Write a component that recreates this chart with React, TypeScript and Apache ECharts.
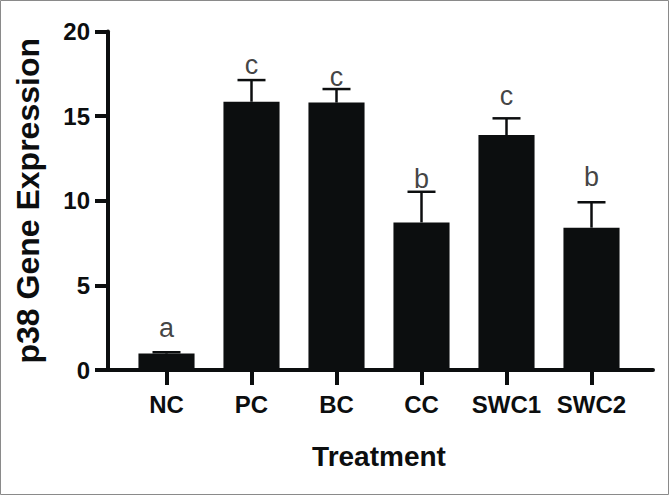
import React, { useEffect, useRef } from "react";
import * as echarts from "echarts";

const categories = ["NC", "PC", "BC", "CC", "SWC1", "SWC2"];
const means = [0.97, 15.85, 15.8, 8.72, 13.88, 8.41];
const upper = [1.05, 17.13, 16.6, 10.53, 14.87, 9.91];
const letters = ["a", "c", "c", "b", "c", "b"];
const letterPos = [2.5, 18.0, 17.3, 11.3, 16.2, 11.4];
const yTicks = [0, 5, 10, 15, 20];

const FONT = "'Liberation Sans', Arial, Helvetica, sans-serif";
const INK = "#0c0e0f";

export default function App() {
  const ref = useRef<HTMLDivElement>(null);
  useEffect(() => {
    document.body.style.margin = "0";
    if (!ref.current) return;
    const chart = echarts.init(ref.current, null, { renderer: "svg" });
    const option: any = {
      animation: false,
      backgroundColor: "#ffffff",
      grid: [
        { left: 124, right: 35, top: 31.5, bottom: 125 },
        { left: 108, right: 16, top: 31.5, bottom: 125 },
      ],
      graphic: [
        {
          type: "rect",
          shape: { x: 0.5, y: 0.5, width: 668, height: 494 },
          style: { fill: "none", stroke: "#8a8a8a", lineWidth: 1 },
          silent: true,
        },
      ],
      xAxis: [
        {
          type: "category",
          gridIndex: 0,
          data: categories,
          axisLine: { show: false },
          axisTick: { show: true, alignWithLabel: true, interval: 0, length: 15, lineStyle: { width: 4, color: INK } },
          axisLabel: { interval: 0, fontFamily: FONT, fontWeight: "bold", fontSize: 24, color: INK, margin: 22 },
          name: "Treatment",
          nameLocation: "middle",
          nameGap: 72,
          nameTextStyle: { fontFamily: FONT, fontWeight: "bold", fontSize: 28, color: INK },
        },
        {
          type: "value",
          gridIndex: 1,
          min: 0,
          max: 1,
          axisLine: { show: true, lineStyle: { width: 4, color: INK } },
          axisTick: { show: false },
          axisLabel: { show: false },
          splitLine: { show: false },
        },
      ],
      yAxis: [
        {
          type: "value",
          gridIndex: 0,
          min: yTicks[0],
          max: yTicks[yTicks.length - 1],
          interval: 5,
          offset: 16,
          axisLine: { show: true, lineStyle: { width: 4, color: INK } },
          axisTick: { show: true, length: 13, lineStyle: { width: 4, color: INK } },
          axisLabel: { fontFamily: FONT, fontWeight: "bold", fontSize: 24, color: INK, margin: 18 },
          splitLine: { show: false },
          name: "p38 Gene Expression",
          nameLocation: "middle",
          nameGap: 64,
          nameTextStyle: { fontFamily: FONT, fontWeight: "bold", fontSize: 32, color: INK },
        },
        { type: "value", gridIndex: 1, show: false, min: 0, max: 1 },
      ],
      series: [
        {
          type: "bar",
          xAxisIndex: 0,
          yAxisIndex: 0,
          data: means,
          barWidth: "66%",
          itemStyle: { color: INK },
          z: 2,
        },
        {
          type: "custom",
          xAxisIndex: 0,
          yAxisIndex: 0,
          z: 3,
          data: means.map((m, i) => [i, m, upper[i]]),
          renderItem: (params: any, api: any) => {
            const i = api.value(0);
            const base = api.coord([i, api.value(1)]);
            const top = api.coord([i, api.value(2)]);
            const half = 14;
            const style = { stroke: INK, lineWidth: 2.5 };
            return {
              type: "group",
              children: [
                { type: "line", shape: { x1: base[0], y1: base[1], x2: top[0], y2: top[1] }, style },
                { type: "line", shape: { x1: top[0] - half, y1: top[1], x2: top[0] + half, y2: top[1] }, style },
              ],
            };
          },
        },
        {
          type: "scatter",
          xAxisIndex: 0,
          yAxisIndex: 0,
          symbolSize: 0,
          data: letterPos.map((p, i) => [i, p]),
          label: {
            show: true,
            position: "inside",
            formatter: (p: any) => letters[p.dataIndex],
            fontFamily: FONT,
            fontSize: 27,
            color: "#111111",
            textBorderWidth: 0,
          },
          z: 4,
        },
      ],
    };
    chart.setOption(option);
    return () => chart.dispose();
  }, []);
  return <div ref={ref} style={{ width: 669, height: 495 }} />;
}
